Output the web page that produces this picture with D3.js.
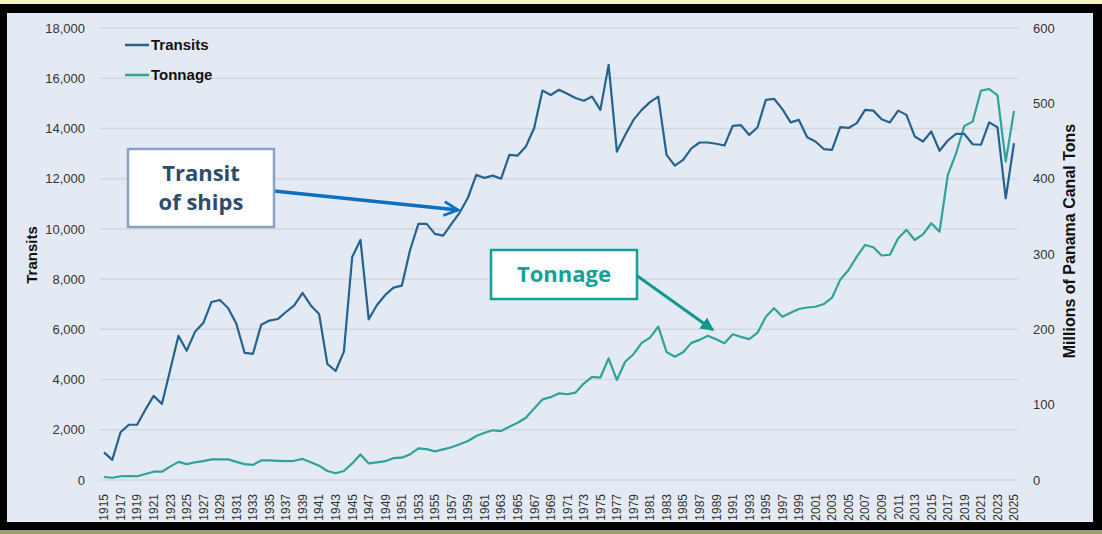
<!DOCTYPE html>
<html>
<head>
<meta charset="utf-8" />
<script src="https://cdn.jsdelivr.net/npm/d3@7"></script>
<style>
  body { margin: 0; background: #000; }
  svg { display: block; }
</style>
</head>
<body>
<div id="chart"></div>
<script>
// Panama Canal transits and tonnage, 1915-2025
var years = d3.range(1915, 2026);

// transits (ships per year), left axis
var transits = [
  1100, 800, 1900, 2200, 2200, 2800, 3350, 3030, 4380, 5740,
  5150, 5900, 6250, 7090, 7170, 6850, 6220, 5060, 5020, 6180,
  6350, 6410, 6690, 6950, 7450, 6950, 6610, 4620, 4340, 5110,
  8880, 9560, 6400, 6970, 7370, 7660, 7740, 9160, 10200, 10200,
  9800, 9730, 10200, 10650, 11250, 12150, 12030, 12120, 12000, 12950,
  12920, 13280, 14020, 15510, 15330, 15540, 15380, 15210, 15100, 15270,
  14740, 16530, 13080, 13740, 14340, 14740, 15050, 15270, 12950, 12520,
  12750, 13210, 13440, 13440, 13390, 13320, 14100, 14130, 13740, 14050,
  15140, 15180, 14770, 14240, 14340, 13650, 13480, 13180, 13150, 14050,
  14020, 14210, 14740, 14710, 14370, 14240, 14710, 14540, 13680, 13480,
  13880, 13110, 13520, 13780, 13780, 13370, 13350, 14240, 14050, 11220,
  13410
];

// tonnage (millions of Panama Canal tons), right axis
var tonnage = [
  4, 3, 5, 5.3, 5, 8, 11, 11, 17.7, 24,
  21, 23.5, 25, 27.4, 27.4, 27.4, 24, 21, 20, 26,
  26, 25.5, 25, 25.5, 28, 23.5, 19, 12, 9, 12,
  22, 34, 22, 23.5, 25, 29, 29.6, 34, 42, 41,
  38, 40.7, 43.4, 47.4, 51.8, 58.4, 62.8, 66, 65, 70.8,
  76, 82.7, 95, 107, 110, 115, 113.8, 116, 128, 137,
  136, 161.5, 132.7, 157, 167, 182, 189, 203.5, 170, 163.7,
  169.5, 182, 186, 191.6, 186.8, 181.5, 193.4, 190, 187, 195.5,
  216.8, 228, 216.8, 222, 227, 229, 230, 233.6, 242, 266,
  278.8, 296.5, 312, 309, 298, 299, 321, 332, 318.6, 326,
  340.8, 329.6, 405, 433.7, 470, 475.7, 516.8, 519, 511, 422.6,
  490
];

var leftTicks = d3.range(0, 18001, 2000);
var rightTicks = d3.range(0, 601, 100);
var yearTicks = years.filter(function (y) { return y % 2 === 1; });

var seriesNames = ["Transits", "Tonnage"];
var colTransits = "#26628f";
var colTonnage = "#2ea39c";

var width = 1102, height = 534;

var svg = d3.select("#chart").append("svg")
  .attr("width", width)
  .attr("height", height);

// frame
svg.append("rect").attr("width", width).attr("height", height).attr("fill", "#000");
svg.append("rect").attr("width", width).attr("height", 4).attr("fill", "#f4f0c4");
svg.append("rect").attr("y", 530).attr("width", width).attr("height", 4).attr("fill", "#9e9a72");
svg.append("rect").attr("x", 7).attr("y", 13).attr("width", 1086).attr("height", 509).attr("fill", "#e4eaf3");

var x = d3.scaleLinear().domain([1915, 2025]).range([104, 1014]);
var yL = d3.scaleLinear().domain([0, 18000]).range([480, 28]);
var yR = d3.scaleLinear().domain([0, 600]).range([480, 28]);

var font = "'Liberation Sans', Arial, sans-serif";

// gridlines
svg.append("g").selectAll("line")
  .data(leftTicks)
  .enter().append("line")
  .attr("x1", 100).attr("x2", 1018)
  .attr("y1", function (d) { return yL(d); })
  .attr("y2", function (d) { return yL(d); })
  .attr("stroke", "#d3d7de")
  .attr("stroke-width", 1.5);

// left axis
var gl = svg.append("g")
  .attr("transform", "translate(100,0)")
  .call(d3.axisLeft(yL).tickValues(leftTicks).tickSize(0).tickPadding(15).tickFormat(d3.format(",")));
gl.select(".domain").remove();
gl.selectAll("text").attr("font-family", font).attr("font-size", 13).attr("fill", "#333");

// right axis
var gr = svg.append("g")
  .attr("transform", "translate(1018,0)")
  .call(d3.axisRight(yR).tickValues(rightTicks).tickSize(0).tickPadding(15));
gr.select(".domain").remove();
gr.selectAll("text").attr("font-family", font).attr("font-size", 13).attr("fill", "#333");

// year axis
var gx = svg.append("g")
  .attr("transform", "translate(0,480)")
  .call(d3.axisBottom(x).tickValues(yearTicks).tickSize(0).tickFormat(d3.format("d")));
gx.select(".domain").remove();
gx.selectAll("text")
  .attr("font-family", font).attr("font-size", 12).attr("fill", "#333")
  .attr("transform", "rotate(-90)")
  .attr("text-anchor", "end")
  .attr("dx", "-14px")
  .attr("dy", "0.32em")
  .attr("y", 0);

// axis titles
svg.append("text")
  .attr("transform", "translate(37,255) rotate(-90)")
  .attr("text-anchor", "middle")
  .attr("font-family", font).attr("font-weight", "bold").attr("font-size", 15).attr("fill", "#111")
  .text("Transits");
svg.append("text")
  .attr("transform", "translate(1075,241) rotate(-90)")
  .attr("text-anchor", "middle")
  .attr("font-family", font).attr("font-weight", "bold").attr("font-size", 16).attr("fill", "#111")
  .text("Millions of Panama Canal Tons");

// lines
var lineL = d3.line().x(function (d, i) { return x(years[i]); }).y(function (d) { return yL(d); });
var lineR = d3.line().x(function (d, i) { return x(years[i]); }).y(function (d) { return yR(d); });

svg.append("path").datum(tonnage)
  .attr("d", lineR).attr("fill", "none")
  .attr("stroke", colTonnage).attr("stroke-width", 2.2).attr("stroke-linejoin", "round");
svg.append("path").datum(transits)
  .attr("d", lineL).attr("fill", "none")
  .attr("stroke", colTransits).attr("stroke-width", 2.2).attr("stroke-linejoin", "round");

// legend
var legend = svg.append("g").selectAll("g")
  .data(seriesNames)
  .enter().append("g")
  .attr("transform", function (d, i) { return "translate(125," + (45 + i * 30) + ")"; });
legend.append("line")
  .attr("x1", 0).attr("x2", 24)
  .attr("stroke", function (d, i) { return i === 0 ? colTransits : colTonnage; })
  .attr("stroke-width", 2.5);
legend.append("text")
  .attr("x", 26).attr("dy", "0.35em")
  .attr("font-family", font).attr("font-weight", "bold").attr("font-size", 15).attr("fill", "#111")
  .text(function (d) { return d; });

// annotations
var defs = svg.append("defs");
defs.append("marker")
  .attr("id", "openHead").attr("viewBox", "0 0 10 10")
  .attr("refX", 9).attr("refY", 5)
  .attr("markerWidth", 5).attr("markerHeight", 5)
  .attr("markerUnits", "strokeWidth")
  .attr("orient", "auto")
  .append("path").attr("d", "M1,1 L9,5 L1,9")
  .attr("fill", "none").attr("stroke", "#0b6fc0").attr("stroke-width", 1.6);
defs.append("marker")
  .attr("id", "solidHead").attr("viewBox", "0 0 10 10")
  .attr("refX", 9).attr("refY", 5)
  .attr("markerWidth", 4.5).attr("markerHeight", 4.5)
  .attr("markerUnits", "strokeWidth")
  .attr("orient", "auto")
  .append("path").attr("d", "M0,0 L10,5 L0,10 Z")
  .attr("fill", "#11988f");

var annFont = "'Open Sans', 'DejaVu Sans', sans-serif";

svg.append("line")
  .attr("x1", 274).attr("y1", 191).attr("x2", 458).attr("y2", 210)
  .attr("stroke", "#0b6fc0").attr("stroke-width", 3.5)
  .attr("marker-end", "url(#openHead)");
svg.append("rect")
  .attr("x", 128).attr("y", 149).attr("width", 146).attr("height", 78)
  .attr("fill", "#fff").attr("stroke", "#88a2c6").attr("stroke-width", 2.5);
svg.append("text")
  .attr("x", 201).attr("y", 181)
  .attr("text-anchor", "middle")
  .attr("font-family", annFont).attr("font-weight", "bold").attr("font-size", 22).attr("fill", "#2f4b6c")
  .text("Transit");
svg.append("text")
  .attr("x", 201).attr("y", 210)
  .attr("text-anchor", "middle")
  .attr("font-family", annFont).attr("font-weight", "bold").attr("font-size", 22).attr("fill", "#2f4b6c")
  .text("of ships");

svg.append("line")
  .attr("x1", 636).attr("y1", 275).attr("x2", 713).attr("y2", 330)
  .attr("stroke", "#11988f").attr("stroke-width", 3)
  .attr("marker-end", "url(#solidHead)");
svg.append("rect")
  .attr("x", 491).attr("y", 250).attr("width", 146).attr("height", 49)
  .attr("fill", "#fff").attr("stroke", "#11a096").attr("stroke-width", 2.5);
svg.append("text")
  .attr("x", 564).attr("y", 282)
  .attr("text-anchor", "middle")
  .attr("font-family", annFont).attr("font-weight", "bold").attr("font-size", 22).attr("fill", "#16a096")
  .text("Tonnage");
</script>
</body>
</html>
